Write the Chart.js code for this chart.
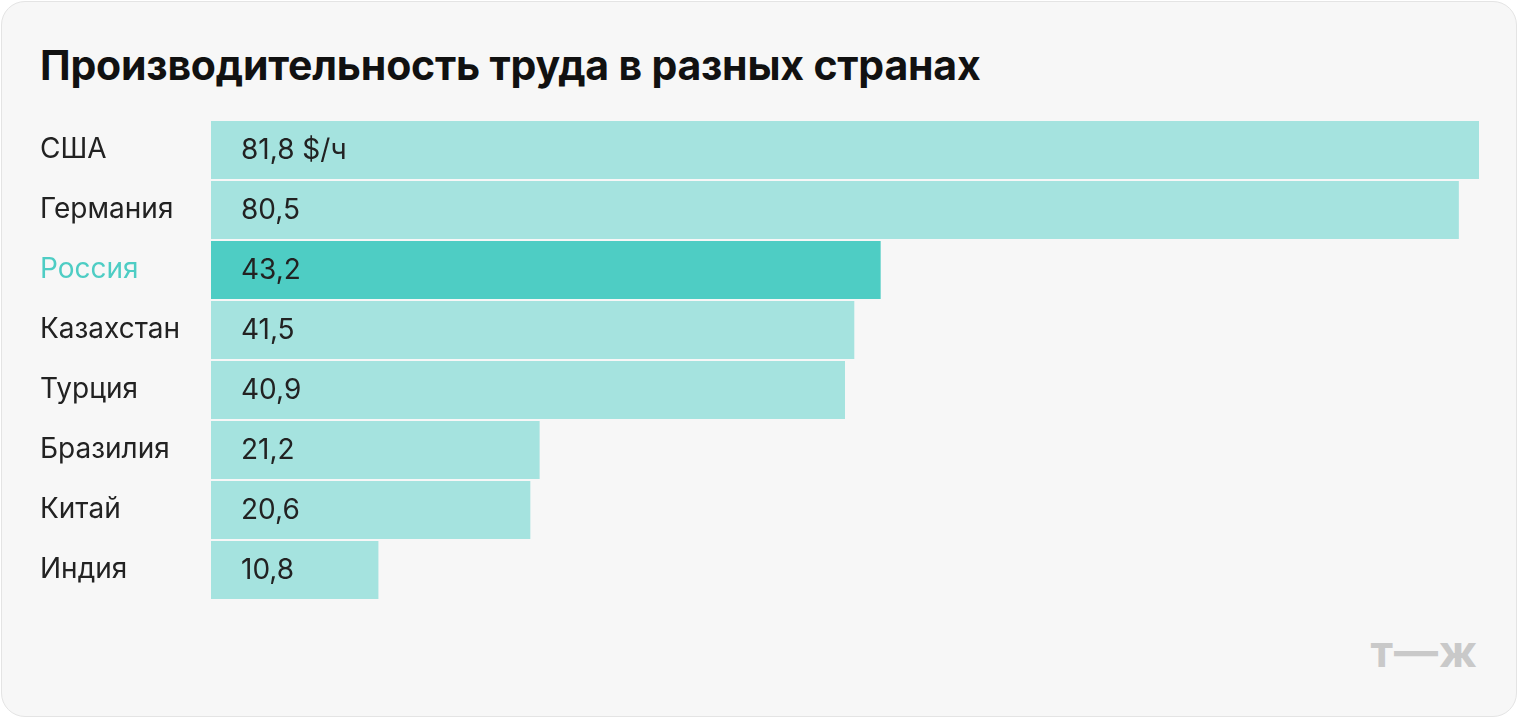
<!DOCTYPE html>
<html lang="ru">
<head>
<meta charset="UTF-8">
<title>Производительность труда</title>
<script src="https://cdn.jsdelivr.net/npm/chart.js"></script>
<style>
  body { margin: 0; background: #fff; font-family: Inter, "Noto Sans", sans-serif; }
  .card { position: absolute; left: 1px; top: 1px; width: 1516px; height: 716px; background: #f7f7f7;
          border: 1px solid #e4e4e4; border-radius: 24px; box-sizing: border-box; }
  h1 { position: absolute; left: 40px; top: 40px; margin: 0; font-size: 41px; font-weight: 700; color: #111; letter-spacing: -0.2px; }
  .logo { position: absolute; right: 42px; top: 624px; font-size: 44px; font-weight: 700; color: #c9c9c9; letter-spacing: 1px; }
  canvas { position: absolute; left: 0; top: 0; }
</style>
</head>
<body>
<div class="card"></div>
<h1>Производительность труда в разных странах</h1>
<div class="logo">т—ж</div>
<div style="position:absolute;left:0;top:0;width:1520px;height:720px;"><canvas id="c"></canvas></div>
<script>
  const countries = ['США', 'Германия', 'Россия', 'Казахстан', 'Турция', 'Бразилия', 'Китай', 'Индия'];
  const values = [81.8, 80.5, 43.2, 41.5, 40.9, 21.2, 20.6, 10.8];
  const highlight = 'Россия';

  const fmt = v => v.toFixed(1).replace('.', ',');

  const valueLabels = {
    id: 'valueLabels',
    afterDatasetsDraw(chart) {
      const ctx = chart.ctx;
      const meta = chart.getDatasetMeta(0);
      ctx.save();
      ctx.font = '28px Inter, "Noto Sans", sans-serif';
      ctx.fillStyle = '#222';
      ctx.textBaseline = 'middle';
      meta.data.forEach((bar, i) => {
        const t = fmt(values[i]) + (i === 0 ? ' $/ч' : '');
        ctx.fillText(t, chart.chartArea.left + 30, bar.y + 1);
      });
      ctx.restore();
    }
  };

  new Chart(document.getElementById('c'), {
    type: 'bar',
    data: {
      labels: countries,
      datasets: [{
        data: values,
        backgroundColor: countries.map(c => c === highlight ? '#4ecdc4' : '#a5e3df'),
        barPercentage: 58 / 60,
        categoryPercentage: 1
      }]
    },
    options: {
      indexAxis: 'y',
      responsive: true,
      maintainAspectRatio: false,
      animation: false,
      layout: { padding: { left: 40, right: 41, top: 120, bottom: 120 } },
      plugins: { legend: { display: false }, tooltip: { enabled: false } },
      scales: {
        x: { display: false, min: 0, max: 81.8 },
        y: {
          grid: { display: false, drawBorder: false },
          border: { display: false },
          afterFit(s) { s.width = 171; },
          ticks: {
            crossAlign: 'far',
            padding: 0,
            font: { size: 28, family: 'Inter, "Noto Sans", sans-serif' },
            color: ctx => countries[ctx.index] === highlight ? '#4ecdc4' : '#222'
          }
        }
      }
    },
    plugins: [valueLabels]
  });
</script>
</body>
</html>
